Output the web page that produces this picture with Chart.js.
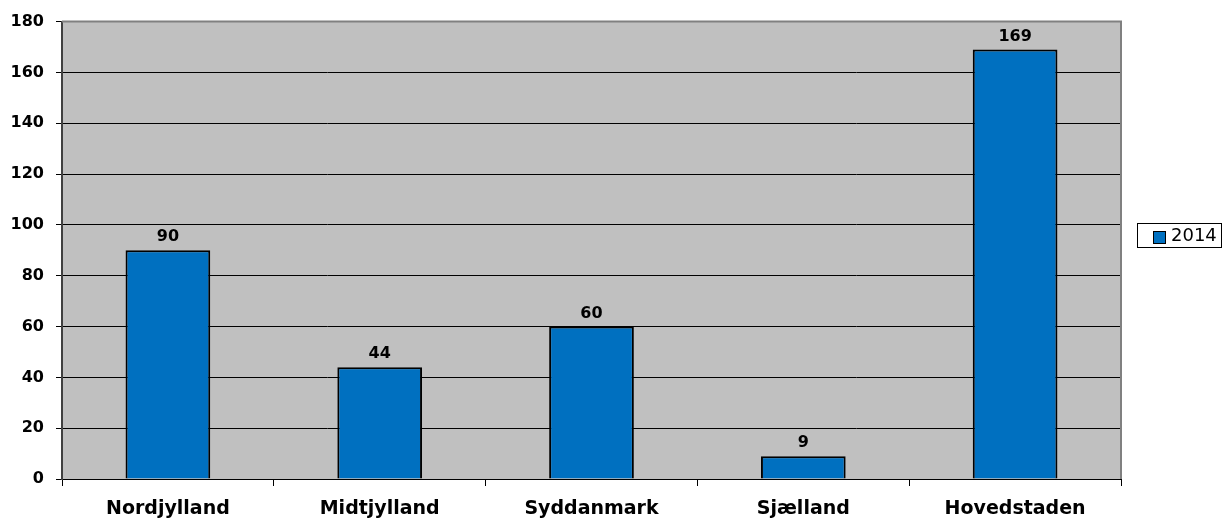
<!DOCTYPE html>
<html>
<head>
<meta charset="utf-8">
<script src="https://cdn.jsdelivr.net/npm/chart.js@4/dist/chart.umd.min.js"></script>
<style>
  html, body { margin: 0; padding: 0; background: #ffffff; }
  #wrap { width: 1223px; height: 518px; position: relative; }
</style>
</head>
<body>
<div id="wrap"><canvas id="c"></canvas></div>
<script>
// Regions and counts for 2014
const regions = ['Nordjylland', 'Midtjylland', 'Syddanmark', 'Sjælland', 'Hovedstaden'];
const counts2014 = [90, 44, 60, 9, 169];
const seriesName = '2014';
const yTicks = [0, 20, 40, 60, 80, 100, 120, 140, 160, 180];

const FONT = '"DejaVu Sans", Verdana, sans-serif';
const BAR_BLUE = '#0070c0';

// Gray plot background plus top/right frame
const plotFrame = {
  id: 'plotFrame',
  beforeDraw(chart) {
    const { ctx, chartArea: a } = chart;
    ctx.save();
    ctx.fillStyle = '#c0c0c0';
    ctx.fillRect(a.left, a.top, a.right - a.left, a.bottom - a.top);
    ctx.restore();
  },
  afterDraw(chart) {
    const { ctx, chartArea: a } = chart;
    ctx.save();
    ctx.strokeStyle = '#808080';
    ctx.lineWidth = 2;
    ctx.beginPath();
    ctx.moveTo(a.left, a.top);
    ctx.lineTo(a.right, a.top);
    ctx.lineTo(a.right, a.bottom);
    ctx.stroke();
    ctx.restore();
  }
};

// Value labels above each bar
const valueLabels = {
  id: 'valueLabels',
  afterDatasetsDraw(chart) {
    const { ctx } = chart;
    const meta = chart.getDatasetMeta(0);
    ctx.save();
    ctx.font = 'bold 16px ' + FONT;
    ctx.fillStyle = '#000000';
    ctx.textAlign = 'center';
    ctx.textBaseline = 'bottom';
    meta.data.forEach((bar, i) => {
      ctx.fillText(String(chart.data.datasets[0].data[i]), bar.x, bar.y - 5);
    });
    ctx.restore();
  }
};

// Boxed legend on the right
const sideLegend = {
  id: 'sideLegend',
  afterDraw(chart) {
    const { ctx } = chart;
    const x = 1137, y = 223, w = 85, h = 25;
    ctx.save();
    ctx.fillStyle = '#ffffff';
    ctx.fillRect(x, y, w, h);
    ctx.strokeStyle = '#000000';
    ctx.lineWidth = 1;
    ctx.strokeRect(x + 0.5, y + 0.5, w - 1, h - 1);
    ctx.fillStyle = BAR_BLUE;
    ctx.fillRect(1153, 231, 13, 13);
    ctx.strokeRect(1153.5, 231.5, 12, 12);
    ctx.fillStyle = '#000000';
    ctx.font = '18px ' + FONT;
    ctx.textAlign = 'left';
    ctx.textBaseline = 'middle';
    ctx.fillText(seriesName, 1171, y + h / 2 + 1);
    ctx.restore();
  }
};

new Chart(document.getElementById('c'), {
  type: 'bar',
  data: {
    labels: regions,
    datasets: [{
      label: seriesName,
      data: counts2014,
      backgroundColor: BAR_BLUE,
      borderColor: '#000000',
      borderWidth: 2,
      categoryPercentage: 1,
      barPercentage: 0.4
    }]
  },
  options: {
    responsive: true,
    maintainAspectRatio: false,
    animation: false,
    layout: { padding: { top: 20, right: 102, bottom: 0, left: 0 } },
    plugins: {
      legend: { display: false },
      tooltip: { enabled: false }
    },
    scales: {
      x: {
        offset: true,
        grid: {
          offset: true,
          drawOnChartArea: false,
          drawTicks: true,
          tickLength: 7,
          tickColor: '#000000',
          lineWidth: 1
        },
        border: { display: true, color: '#000000', width: 1 },
        ticks: {
          color: '#000000',
          font: { family: FONT, size: 19, weight: 'bold' },
          padding: 12,
          maxRotation: 0,
          autoSkip: false
        },
        afterFit(scale) { scale.height = 39; }
      },
      y: {
        min: 0,
        max: 180,
        afterBuildTicks(scale) { scale.ticks = yTicks.map(v => ({ value: v })); },
        grid: {
          color: '#000000',
          lineWidth: 1,
          drawTicks: true,
          tickLength: 6,
          tickColor: '#000000'
        },
        border: { display: true, color: '#404040', width: 2 },
        ticks: {
          color: '#000000',
          font: { family: FONT, size: 16, weight: 'bold' },
          padding: 12
        },
        afterFit(scale) { scale.width = 62; }
      }
    }
  },
  plugins: [plotFrame, valueLabels, sideLegend]
});
</script>
</body>
</html>
